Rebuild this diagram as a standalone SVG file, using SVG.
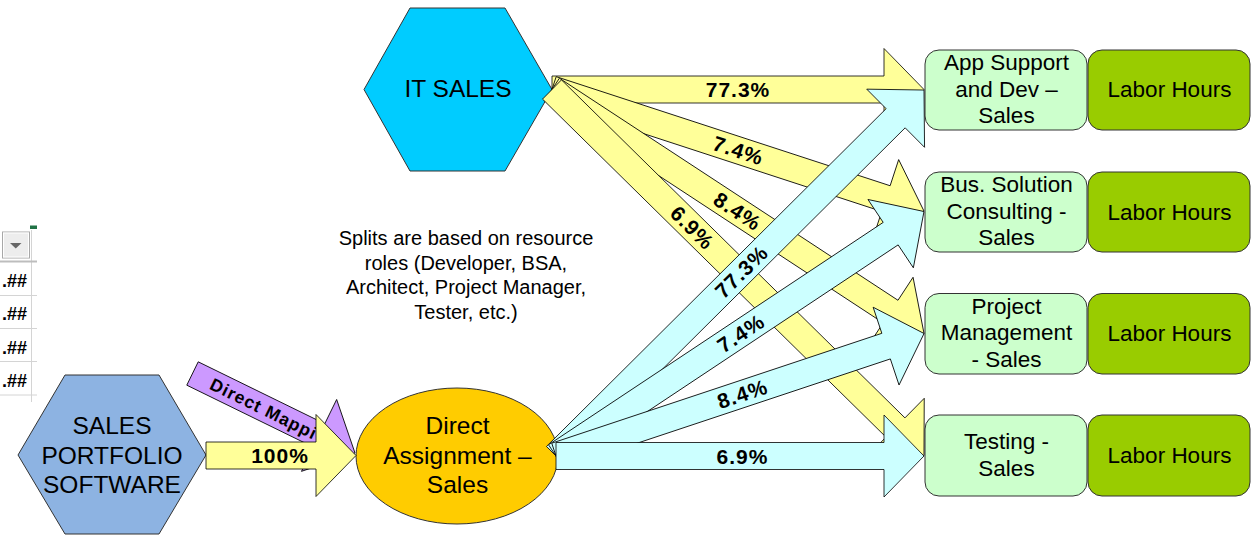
<svg xmlns="http://www.w3.org/2000/svg" width="1260" height="537" viewBox="0 0 1260 537">
<style>
text{font-family:"Liberation Sans",Arial,sans-serif;fill:#000}
.big{font-size:24.5px;text-anchor:middle}
.box{font-size:22.5px;text-anchor:middle}
.note{font-size:20px;text-anchor:middle}
.lbl{font-size:21px;font-weight:bold;text-anchor:middle;letter-spacing:1px}
.ya{fill:#FFFF99;stroke:#000;stroke-width:0.8}
.ca{fill:#CCFFFF;stroke:#000;stroke-width:0.8}
.pa{fill:#CC99FF;stroke:#000;stroke-width:0.8}
.lg{fill:#CCFFCC;stroke:#333;stroke-width:1}
.dg{fill:#99CC00;stroke:#333;stroke-width:1}
.grid{stroke:#D4D4D4;stroke-width:1}
.cell{font-size:18px;font-weight:bold;text-anchor:end}
</style>

<g id="sheet-fragment">
  <rect x="30" y="225.5" width="7" height="3.5" fill="#217346"/>
  <line class="grid" x1="31.5" y1="230" x2="31.5" y2="402"/>
  <rect x="2.5" y="232" width="27" height="26" fill="#EDEDED" stroke="#A8A8A8" stroke-width="1"/>
  <rect x="3.5" y="233" width="25" height="24" fill="none" stroke="#FFFFFF" stroke-width="1"/>
  <polygon points="10,243 21.5,243 15.75,248.5" fill="#666"/>
  <line x1="0" y1="261.5" x2="37" y2="261.5" stroke="#BDBDBD" stroke-width="2"/>
  <line class="grid" x1="0" y1="295.5" x2="37" y2="295.5"/>
  <line class="grid" x1="0" y1="328.5" x2="37" y2="328.5"/>
  <line class="grid" x1="0" y1="361.5" x2="37" y2="361.5"/>
  <line class="grid" x1="0" y1="395" x2="37" y2="395"/>
  <text class="cell" x="27" y="287">.##</text>
  <text class="cell" x="27" y="320">.##</text>
  <text class="cell" x="27" y="353.5">.##</text>
  <text class="cell" x="27" y="387">.##</text>
</g>

<g id="it-sales">
  <polygon points="410,8 505,8 552,89.5 505,171 410,171 364,89.5" fill="#00CCFF" stroke="#333" stroke-width="1"/>
  <text class="big" x="458" y="97">IT SALES</text>
</g>

<g id="sales-portfolio">
  <polygon points="65,375 159,375 206,455 159,534 65,534 18,455" fill="#8DB3E2" stroke="#333" stroke-width="1"/>
  <text class="big" x="112" y="434">SALES</text>
  <text class="big" x="112" y="463.5">PORTFOLIO</text>
  <text class="big" x="112" y="493">SOFTWARE</text>
</g>

<g id="direct-assignment">
  <ellipse cx="457" cy="456" rx="101" ry="68" fill="#FFCC00" stroke="#333" stroke-width="1"/>
  <text class="big" x="457.5" y="434">Direct</text>
  <text class="big" x="457.5" y="463.5">Assignment –</text>
  <text class="big" x="457.5" y="493">Sales</text>
</g>

<g id="note">
  <text class="note" x="466" y="245">Splits are based on resource</text>
  <text class="note" x="466" y="269.5">roles (Developer, BSA,</text>
  <text class="note" x="466" y="294">Architect, Project Manager,</text>
  <text class="note" x="466" y="318.5">Tester, etc.)</text>
</g>

<g id="app-support">
  <rect class="lg" x="925" y="50" width="162" height="80" rx="14"/>
  <text class="box" x="1006.5" y="70">App Support</text>
  <text class="box" x="1006.5" y="96.5">and Dev –</text>
  <text class="box" x="1006.5" y="123">Sales</text>
</g>
<g id="app-support-hours">
  <rect class="dg" x="1088" y="50" width="162" height="80" rx="14"/>
  <text class="box" x="1169.5" y="97">Labor Hours</text>
</g>

<g id="bus-solution">
  <rect class="lg" x="925" y="172" width="162" height="80" rx="14"/>
  <text class="box" x="1006.5" y="192">Bus. Solution</text>
  <text class="box" x="1006.5" y="218.5">Consulting -</text>
  <text class="box" x="1006.5" y="245">Sales</text>
</g>
<g id="bus-solution-hours">
  <rect class="dg" x="1088" y="172" width="162" height="80" rx="14"/>
  <text class="box" x="1169.5" y="219.5">Labor Hours</text>
</g>

<g id="project-management">
  <rect class="lg" x="925" y="293.5" width="162" height="80.5" rx="14"/>
  <text class="box" x="1006.5" y="313.5">Project</text>
  <text class="box" x="1006.5" y="340">Management</text>
  <text class="box" x="1006.5" y="367">- Sales</text>
</g>
<g id="project-management-hours">
  <rect class="dg" x="1088" y="293.5" width="162" height="80.5" rx="14"/>
  <text class="box" x="1169.5" y="341">Labor Hours</text>
</g>

<g id="testing">
  <rect class="lg" x="925" y="415" width="162" height="81" rx="14"/>
  <text class="box" x="1006.5" y="449">Testing -</text>
  <text class="box" x="1006.5" y="476">Sales</text>
</g>
<g id="testing-hours">
  <rect class="dg" x="1088" y="415" width="162" height="81" rx="14"/>
  <text class="box" x="1169.5" y="463">Labor Hours</text>
</g>

<g id="connectors">
  <g transform="translate(192.5,373.5) rotate(26.07)">
    <polygon class="pa" points="0,-13 140.9,-13 140.9,-40 180.9,0 140.9,40 140.9,13 0,13"/>
    <text x="21" y="6.5" style="font-size:17.5px;font-weight:bold;letter-spacing:1px">Direct Mappi</text>
  </g>
  <g transform="translate(206,455.5)">
    <polygon class="ya" points="0,-13.5 110,-13.5 110,-41 150,0 110,41 110,13.5 0,13.5"/>
    <text class="lbl" x="74" y="7.5">100%</text>
  </g>

  <g transform="translate(552,89.5)">
    <polygon class="ya" points="0,-13.5 332,-13.5 332,-41 372,0 332,41 332,13.5 0,13.5"/>
    <text class="lbl" x="186" y="7.5">77.3%</text>
  </g>
  <g transform="translate(552,89.5) rotate(18.09)">
    <polygon class="ya" points="0,-13.5 351.3,-13.5 351.3,-41 391.3,0 351.3,41 351.3,13.5 0,13.5"/>
    <text class="lbl" x="196" y="7.5">7.4%</text>
  </g>
  <g transform="translate(552,89.5) rotate(33.26)">
    <polygon class="ya" points="0,-13.5 404.9,-13.5 404.9,-41 444.9,0 404.9,41 404.9,13.5 0,13.5"/>
    <text class="lbl" x="222" y="7.5">8.4%</text>
  </g>
  <g transform="translate(552,89.5) rotate(44.54)">
    <polygon class="ya" points="0,-13.5 481.9,-13.5 481.9,-41 521.9,0 481.9,41 481.9,13.5 0,13.5"/>
    <text class="lbl" x="197" y="7.5">6.9%</text>
  </g>

  <g transform="translate(556,456) rotate(-44.84)">
    <polygon class="ca" points="0,-13.5 479,-13.5 479,-41 519,0 479,41 479,13.5 0,13.5"/>
    <text class="lbl" x="261.5" y="7.5">77.3%</text>
  </g>
  <g transform="translate(556,456) rotate(-33.6)">
    <polygon class="ca" points="0,-13.5 401.8,-13.5 401.8,-41 441.8,0 401.8,41 401.8,13.5 0,13.5"/>
    <text class="lbl" x="222" y="7.5">7.4%</text>
  </g>
  <g transform="translate(556,456) rotate(-18.41)">
    <polygon class="ca" points="0,-13.5 347.9,-13.5 347.9,-41 387.9,0 347.9,41 347.9,13.5 0,13.5"/>
    <text class="lbl" x="196.6" y="7.5">8.4%</text>
  </g>
  <g transform="translate(556,456)">
    <polygon class="ca" points="0,-13.5 328,-13.5 328,-41 368,0 328,41 328,13.5 0,13.5"/>
    <text class="lbl" x="186.5" y="7.5">6.9%</text>
  </g>
</g>
</svg>
